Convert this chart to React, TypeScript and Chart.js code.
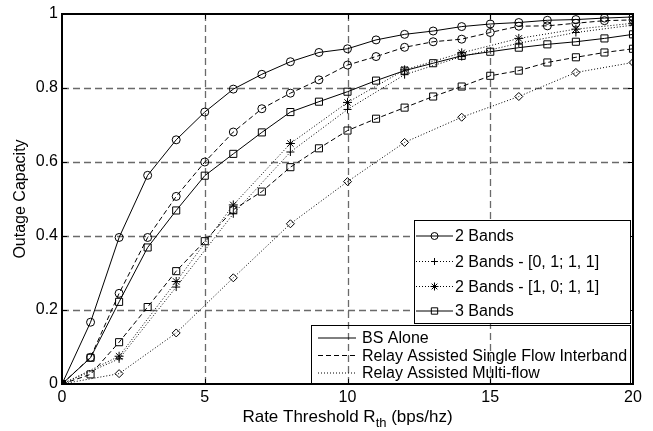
import React, { useEffect, useRef } from 'react';
import { Chart, registerables } from 'chart.js';

Chart.register(...registerables);

// ---- data ----
const rateAll = [0, 1, 2, 3, 4, 5, 6, 7, 8, 9, 10, 11, 12, 13, 14, 15, 16, 17, 18, 19, 20];
const rateEven = [0, 2, 4, 6, 8, 10, 12, 14, 16, 18, 20];

const bsAlone2Bands = [0, 0.167, 0.396, 0.564, 0.66, 0.735, 0.797, 0.837, 0.871, 0.896, 0.906, 0.93, 0.945, 0.954, 0.966, 0.973, 0.977, 0.983, 0.985, 0.989, 0.992];
const relaySingle2Bands = [0, 0.072, 0.245, 0.396, 0.507, 0.6, 0.681, 0.744, 0.786, 0.822, 0.862, 0.885, 0.91, 0.925, 0.932, 0.95, 0.967, 0.968, 0.975, 0.982, 0.984];
const bsAlone3Bands = [0, 0.071, 0.222, 0.369, 0.469, 0.563, 0.622, 0.68, 0.735, 0.763, 0.79, 0.82, 0.847, 0.867, 0.887, 0.898, 0.909, 0.918, 0.925, 0.934, 0.945];
const relaySingle3Bands = [0, 0.026, 0.113, 0.208, 0.305, 0.386, 0.471, 0.52, 0.586, 0.637, 0.685, 0.717, 0.747, 0.777, 0.804, 0.833, 0.847, 0.869, 0.883, 0.896, 0.906];
const multiFlow0111 = [0, 0.068, 0.262, 0.46, 0.627, 0.742, 0.836, 0.885, 0.921, 0.95, 0.97];
const multiFlow1011 = [0, 0.075, 0.277, 0.484, 0.65, 0.761, 0.849, 0.895, 0.934, 0.959, 0.975];
const multiFlow3Bands = [0, 0.028, 0.138, 0.287, 0.433, 0.547, 0.653, 0.721, 0.777, 0.842, 0.869];

const xTicks = [0, 5, 10, 15, 20];
const yTicks = [0, 0.2, 0.4, 0.6, 0.8, 1];

const markerLegendLabels = ['2 Bands', '2 Bands - [0, 1; 1, 1]', '2 Bands - [1, 0; 1, 1]', '3 Bands'];
const styleLegendLabels = ['BS Alone', 'Relay Assisted Single Flow Interband', 'Relay Assisted Multi-flow'];
const yTitle = 'Outage Capacity';
const xTitleMain = 'Rate Threshold R';
const xTitleSub = 'th';
const xTitleTail = ' (bps/hz)';

const FONT = "'Liberation Sans', Arial, Helvetica, sans-serif";
const SOLID: number[] = [];
const DASHED = [5, 3];
const DOTTED = [1, 2];

function pts(xs: number[], ys: number[]) {
  return xs.map((x, i) => ({ x, y: ys[i] }));
}

function drawMarker(ctx: CanvasRenderingContext2D, style: string, x: number, y: number, r: number) {
  ctx.save();
  ctx.setLineDash([]);
  ctx.strokeStyle = '#000';
  ctx.lineWidth = 1;
  ctx.beginPath();
  if (style === 'circle') {
    ctx.arc(x, y, r, 0, Math.PI * 2);
  } else if (style === 'rect') {
    const s = r * Math.SQRT1_2;
    ctx.rect(x - s, y - s, 2 * s, 2 * s);
  } else if (style === 'cross') {
    ctx.moveTo(x - r, y); ctx.lineTo(x + r, y);
    ctx.moveTo(x, y - r); ctx.lineTo(x, y + r);
  } else if (style === 'star') {
    ctx.moveTo(x - r, y); ctx.lineTo(x + r, y);
    ctx.moveTo(x, y - r); ctx.lineTo(x, y + r);
    const d = r * Math.SQRT1_2;
    ctx.moveTo(x - d, y - d); ctx.lineTo(x + d, y + d);
    ctx.moveTo(x - d, y + d); ctx.lineTo(x + d, y - d);
  }
  ctx.stroke();
  ctx.restore();
}

const decorPlugin = {
  id: 'decor',
  beforeDatasetsDraw(chart: any) {
    const { ctx, chartArea: a, scales } = chart;
    const xs = scales.x, ys = scales.y;
    ctx.save();
    ctx.strokeStyle = '#6a6a6a';
    ctx.lineWidth = 1.3;
    ctx.setLineDash([7, 4]);
    xTicks.forEach((v) => {
      if (v === xs.min || v === xs.max) return;
      const px = Math.round(xs.getPixelForValue(v)) + 0.5;
      ctx.beginPath();
      ctx.moveTo(px, a.bottom);
      ctx.lineTo(px, a.top);
      ctx.stroke();
    });
    yTicks.forEach((v) => {
      if (v === ys.min || v === ys.max) return;
      const py = Math.round(ys.getPixelForValue(v)) + 0.5;
      ctx.beginPath();
      ctx.moveTo(a.left, py);
      ctx.lineTo(a.right, py);
      ctx.stroke();
    });
    ctx.restore();
  },
  afterDraw(chart: any) {
    const { ctx, chartArea: a, scales } = chart;
    const xs = scales.x, ys = scales.y;
    ctx.save();
    ctx.setLineDash([]);
    ctx.strokeStyle = '#000';

    // inward tick marks
    ctx.lineWidth = 1;
    const tl = 5;
    xTicks.forEach((v) => {
      const px = Math.round(xs.getPixelForValue(v)) + 0.5;
      ctx.beginPath();
      ctx.moveTo(px, a.bottom); ctx.lineTo(px, a.bottom - tl);
      ctx.moveTo(px, a.top); ctx.lineTo(px, a.top + tl);
      ctx.stroke();
    });
    yTicks.forEach((v) => {
      const py = Math.round(ys.getPixelForValue(v)) + 0.5;
      ctx.beginPath();
      ctx.moveTo(a.left, py); ctx.lineTo(a.left + tl, py);
      ctx.moveTo(a.right, py); ctx.lineTo(a.right - tl, py);
      ctx.stroke();
    });

    // box
    ctx.lineWidth = 2;
    ctx.strokeRect(a.left, a.top, a.right - a.left, a.bottom - a.top);

    // y title
    ctx.fillStyle = '#000';
    ctx.font = `16px ${FONT}`;
    ctx.textAlign = 'center';
    ctx.textBaseline = 'middle';
    ctx.save();
    ctx.translate(21, (a.top + a.bottom) / 2);
    ctx.rotate(-Math.PI / 2);
    ctx.fillText(yTitle, 0, 0);
    ctx.restore();

    // x title with subscript
    ctx.textAlign = 'left';
    ctx.textBaseline = 'alphabetic';
    ctx.font = `17px ${FONT}`;
    const w1 = ctx.measureText(xTitleMain).width;
    const w3 = ctx.measureText(xTitleTail).width;
    ctx.font = `13px ${FONT}`;
    const w2 = ctx.measureText(xTitleSub).width;
    const total = w1 + w2 + w3;
    let tx = (a.left + a.right) / 2 - total / 2;
    const base = 421.5;
    ctx.font = `17px ${FONT}`;
    ctx.fillText(xTitleMain, tx, base);
    tx += w1;
    ctx.font = `13px ${FONT}`;
    ctx.fillText(xTitleSub, tx, base + 5);
    tx += w2;
    ctx.font = `17px ${FONT}`;
    ctx.fillText(xTitleTail, tx, base);

    // legend 1 (markers)
    const l1 = { x: 414.5, y: 220.5, w: 216, h: 103 };
    ctx.fillStyle = '#fff';
    ctx.fillRect(l1.x, l1.y, l1.w, l1.h);
    ctx.lineWidth = 1;
    ctx.strokeStyle = '#000';
    ctx.strokeRect(l1.x, l1.y, l1.w, l1.h);
    const l1Rows = [236, 261.5, 286.5, 311];
    const l1Markers = ['circle', 'cross', 'star', 'rect'];
    const l1Dash = [SOLID, DOTTED, DOTTED, SOLID];
    const l1Radius = [3.5, 3.5, 4, 4.5];
    ctx.font = `16px ${FONT}`;
    ctx.textAlign = 'left';
    ctx.textBaseline = 'middle';
    markerLegendLabels.forEach((label, i) => {
      const yy = l1Rows[i];
      ctx.strokeStyle = '#000';
      ctx.lineWidth = 1;
      ctx.setLineDash(l1Dash[i]);
      ctx.beginPath();
      ctx.moveTo(416, yy); ctx.lineTo(453, yy);
      ctx.stroke();
      ctx.setLineDash([]);
      drawMarker(ctx, l1Markers[i], 434.5, yy, l1Radius[i]);
      ctx.fillStyle = '#000';
      ctx.fillText(label, 455, yy + 1);
    });

    // legend 2 (line styles)
    const l2 = { x: 311.5, y: 325.5, w: 319, h: 59 };
    ctx.setLineDash([]);
    ctx.strokeStyle = '#000';
    ctx.lineWidth = 1;
    ctx.strokeRect(l2.x, l2.y, l2.w, l2.h);
    const l2Rows = [338, 355.5, 373];
    const l2Dash = [SOLID, DASHED, DOTTED];
    styleLegendLabels.forEach((label, i) => {
      const yy = l2Rows[i];
      ctx.setLineDash(l2Dash[i]);
      ctx.beginPath();
      ctx.moveTo(318, yy); ctx.lineTo(356, yy);
      ctx.stroke();
      ctx.setLineDash([]);
      ctx.fillStyle = '#000';
      ctx.fillText(label, 362, yy + 1);
    });

    ctx.restore();
  },
};

function lineDs(label: string, xs: number[], ys: number[], dash: number[], pointStyle: string, radius: number) {
  return {
    label,
    data: pts(xs, ys),
    borderColor: '#000',
    borderWidth: 1,
    borderDash: dash,
    backgroundColor: 'rgba(0,0,0,0)',
    pointStyle,
    pointRadius: radius,
    pointHoverRadius: radius,
    pointBorderColor: '#000',
    pointBackgroundColor: 'rgba(0,0,0,0)',
    pointBorderWidth: 1,
    fill: false,
    tension: 0,
  };
}

export default function App() {
  const ref = useRef<HTMLCanvasElement | null>(null);

  useEffect(() => {
    if (!ref.current) return;
    const chart = new Chart(ref.current, {
      type: 'line',
      data: {
        datasets: [
          lineDs('BS Alone - 2 Bands', rateAll, bsAlone2Bands, SOLID, 'circle', 4),
          lineDs('Relay Single Flow - 2 Bands', rateAll, relaySingle2Bands, DASHED, 'circle', 4),
          lineDs('BS Alone - 3 Bands', rateAll, bsAlone3Bands, SOLID, 'rect', 5),
          lineDs('Relay Single Flow - 3 Bands', rateAll, relaySingle3Bands, DASHED, 'rect', 5),
          lineDs('Multi-flow - [0, 1; 1, 1]', rateEven, multiFlow0111, DOTTED, 'cross', 4),
          lineDs('Multi-flow - [1, 0; 1, 1]', rateEven, multiFlow1011, DOTTED, 'star', 4.5),
          lineDs('Multi-flow - 3 Bands', rateEven, multiFlow3Bands, DOTTED, 'rectRot', 4),
        ] as any,
      },
      options: {
        responsive: false,
        animation: false,
        events: [],
        layout: { padding: { left: 0, top: 14, right: 20, bottom: 0 } },
        plugins: { legend: { display: false }, tooltip: { enabled: false }, title: { display: false } },
        scales: {
          x: {
            type: 'linear',
            min: 0,
            max: 20,
            afterFit: (s: any) => { s.height = 47; },
            afterBuildTicks: (s: any) => { s.ticks = xTicks.map((v) => ({ value: v })); },
            grid: { display: false, drawTicks: false },
            border: { display: false },
            ticks: {
              padding: 4,
              color: '#000',
              font: { family: FONT, size: 16 },
              maxRotation: 0,
              callback: (v: any) => String(v),
            },
          },
          y: {
            type: 'linear',
            min: 0,
            max: 1,
            afterFit: (s: any) => { s.width = 62; },
            afterBuildTicks: (s: any) => { s.ticks = yTicks.map((v) => ({ value: v })); },
            grid: { display: false, drawTicks: false },
            border: { display: false },
            ticks: {
              padding: 4,
              color: '#000',
              font: { family: FONT, size: 16 },
              callback: (v: any) => (v === 0 || v === 1 ? String(v) : Number(v).toFixed(1)),
            },
          },
        },
      },
      plugins: [decorPlugin],
    } as any);
    return () => chart.destroy();
  }, []);

  return (
    <div style={{ position: 'absolute', left: 0, top: 0, width: 653, height: 431, background: '#fff' }}>
      <canvas ref={ref} width={653} height={431} style={{ display: 'block', width: 653, height: 431 }} />
    </div>
  );
}
